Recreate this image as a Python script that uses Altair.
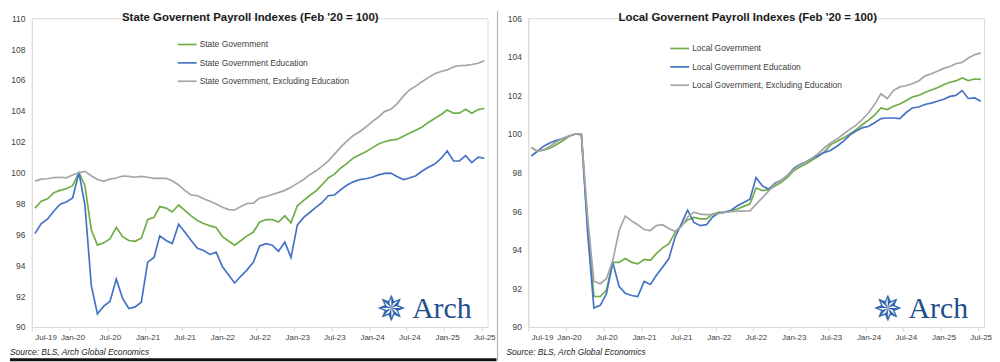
import altair as alt
import pandas as pd

# Monthly observations Jul-2019 .. Jul-2025 (73 months), plotted mid-month
dates = [(pd.Timestamp("2019-07-01") + pd.DateOffset(months=i)).strftime("%Y-%m-16T00:00:00") for i in range(73)]

state_names = ["State Government", "State Government Education", "State Government, Excluding Education"]
local_names = ["Local Government", "Local Government Education", "Local Government, Excluding Education"]
colors = ["#70ad47", "#4472c4", "#a5a5a5"]

state_gov = [97.7, 98.15, 98.3, 98.7, 98.85, 98.95, 99.15, 100.0, 99.15, 96.3,
             95.3, 95.45, 95.7, 96.45, 95.85, 95.6, 95.55, 95.75, 96.95, 97.1,
             97.8, 97.7, 97.45, 97.9, 97.55, 97.2, 96.9, 96.7, 96.55, 96.45,
             95.85, 95.55, 95.3, 95.6, 95.9, 96.15, 96.8, 96.95, 96.95, 96.8,
             97.2, 96.75, 97.85, 98.2, 98.5, 98.8, 99.2, 99.65, 99.9, 100.3,
             100.6, 100.95, 101.15, 101.35, 101.6, 101.85, 102.0, 102.1, 102.15, 102.35,
             102.55, 102.75, 102.95, 103.25, 103.5, 103.75, 104.05, 103.85, 103.85, 104.1,
             103.85, 104.08, 104.15]
state_edu = [96.05, 96.7, 97.0, 97.5, 97.95, 98.1, 98.35, 100.0, 97.9, 92.7,
             90.85, 91.35, 91.65, 93.1, 91.85, 91.2, 91.3, 91.6, 94.2, 94.5,
             95.9, 95.6, 95.4, 96.65, 96.15, 95.6, 95.1, 94.95, 94.7, 94.85,
             93.9, 93.35, 92.85, 93.3, 93.7, 94.2, 95.25, 95.4, 95.3, 94.9,
             95.5, 94.5, 96.6, 97.1, 97.4, 97.75, 98.05, 98.5, 98.55, 98.9,
             99.2, 99.4, 99.55, 99.6, 99.7, 99.85, 99.95, 99.97, 99.75, 99.55,
             99.65, 99.8, 100.1, 100.35, 100.55, 100.9, 101.4, 100.75, 100.75, 101.1,
             100.65, 101.0, 100.93]
state_exed = [99.45, 99.58, 99.6, 99.68, 99.7, 99.66, 99.85, 100.0, 100.08, 99.8,
              99.55, 99.43, 99.58, 99.65, 99.78, 99.75, 99.7, 99.76, 99.7, 99.63,
              99.62, 99.62, 99.47, 99.2, 98.85, 98.55, 98.5, 98.3, 98.15, 97.97,
              97.75, 97.6, 97.58, 97.8, 98.0, 98.02, 98.35, 98.45, 98.58, 98.7,
              98.85, 99.05, 99.3, 99.55, 99.85, 100.1, 100.4, 100.75, 101.2, 101.65,
              102.05, 102.4, 102.65, 102.95, 103.3, 103.6, 103.95, 104.1, 104.45, 104.95,
              105.35, 105.6, 105.9, 106.15, 106.4, 106.55, 106.65, 106.85, 106.92, 106.95,
              107.0, 107.08, 107.24]

local_gov = [99.3, 99.1, 99.17, 99.27, 99.46, 99.65, 99.88, 100.0, 99.97, 95.2,
             91.58, 91.58, 91.9, 93.35, 93.35, 93.55, 93.35, 93.27, 93.5, 93.45,
             93.8, 94.1, 94.3, 94.9, 95.25, 95.55, 95.68, 95.6, 95.6, 95.85,
             95.94, 95.96, 96.02, 96.11, 96.25, 96.37, 97.2, 97.07, 97.12, 97.3,
             97.5, 97.75, 98.1, 98.3, 98.45, 98.65, 98.85, 99.1, 99.45, 99.62,
             99.8, 100.0, 100.22, 100.48, 100.72, 101.0, 101.35, 101.27, 101.44, 101.55,
             101.72, 101.92, 102.0, 102.15, 102.28, 102.4, 102.55, 102.68, 102.75, 102.9,
             102.77, 102.85, 102.83]
local_edu = [98.86, 99.12, 99.38, 99.55, 99.67, 99.77, 99.9, 100.0, 99.97, 94.8,
             90.98, 91.12, 91.72, 93.35, 92.1, 91.75, 91.63, 91.58, 92.36, 92.2,
             92.67, 93.1, 93.53, 94.65, 95.33, 96.05, 95.42, 95.25, 95.3, 95.7,
             95.9, 95.95, 96.05, 96.28, 96.45, 96.62, 97.74, 97.31, 97.14, 97.45,
             97.6, 97.85, 98.22, 98.43, 98.55, 98.75, 98.9, 99.05, 99.16, 99.38,
             99.63, 99.94, 100.15, 100.32, 100.4, 100.6, 100.8, 100.83, 100.83, 100.8,
             101.1, 101.35, 101.4, 101.53, 101.6, 101.7, 101.8, 101.95, 102.0, 102.25,
             101.84, 101.87, 101.7]
local_exed = [99.3, 99.1, 99.2, 99.38, 99.6, 99.77, 99.9, 100.0, 99.97, 95.6,
              92.37, 92.24, 92.5, 93.44, 95.0, 95.75, 95.5, 95.3, 95.05, 95.0,
              95.25, 95.3, 95.1, 94.95, 95.2, 95.7, 95.95, 95.85, 95.82, 95.82,
              95.88, 95.94, 95.98, 96.0, 96.0, 96.02, 96.35, 96.7, 97.05, 97.4,
              97.6, 97.85, 98.15, 98.4, 98.55, 98.75, 99.0, 99.3, 99.55, 99.75,
              100.0, 100.24, 100.46, 100.75, 101.1, 101.56, 102.08, 101.84, 102.25, 102.44,
              102.5, 102.6, 102.75, 103.0, 103.12, 103.25, 103.4, 103.5, 103.64, 103.71,
              103.94, 104.11, 104.2]

state_title = "State Governent Payroll Indexes (Feb '20 = 100)"
local_title = "Local Governent Payroll Indexes (Feb '20 = 100)"
source_text = "Source: BLS, Arch Global Economics"
state_yticks = list(range(90, 111, 2))
local_yticks = list(range(90, 107, 2))

FONT = "Liberation Sans"
W, H = 459, 311


def long_df(names, series):
    rows = []
    for name, vals in zip(names, series):
        for d, v in zip(dates, vals):
            rows.append({"date": d, "series": name, "value": v})
    return pd.DataFrame(rows)


def panel(names, series, title, ymax, yticks, legend_x, legend_y, title_x, left_panel=True):
    df = long_df(names, series)
    xticks = [alt.DateTime(year=2019 + (i + 1) // 2, month=7 if i % 2 == 0 else 1, date=1) for i in range(13)]
    lines = alt.Chart(df).mark_line(strokeWidth=1.7).encode(
        x=alt.X("date:T",
                scale=alt.Scale(domain=[alt.DateTime(year=2019, month=7, date=1),
                                        alt.DateTime(year=2025, month=8, date=1)]),
                axis=alt.Axis(values=xticks, format="%b-%y", title=None, grid=False,
                              domainColor="#d9d9d9", tickColor="#d9d9d9", tickSize=4,
                              labelPadding=3, labelFontSize=8, labelColor="#404040",
                              labelFont=FONT, labelOverlap=False, labelOffset=3)),
        y=alt.Y("value:Q",
                scale=alt.Scale(domain=[90, ymax], nice=False, zero=False),
                axis=alt.Axis(values=yticks, format="d", title=None, grid=False, ticks=False,
                              domainColor="#d9d9d9", labelPadding=7, labelFontSize=8.5,
                              labelColor="#404040", labelFont=FONT)),
        color=alt.Color("series:N", scale=alt.Scale(domain=names, range=colors),
                        legend=alt.Legend(orient="none", legendX=legend_x, legendY=legend_y,
                                          title=None, symbolType="stroke", symbolSize=361,
                                          symbolStrokeWidth=1.7, labelFont=FONT, labelFontSize=8.5,
                                          labelColor="#404040", rowPadding=3.5, labelOffset=2,
                                          direction="vertical")),
    )
    ttl = alt.Chart(pd.DataFrame({"t": [title]})).mark_text(
        font=FONT, fontSize=11.5, fontWeight="bold", color="#1a1a1a", align="center", baseline="alphabetic"
    ).encode(text="t:N", x=alt.value(title_x), y=alt.value(3))
    star = alt.Chart(pd.DataFrame({"t": ["\u2735"]})).mark_text(
        font="DejaVu Sans", fontSize=36, color="#2f64ad", align="center", baseline="middle"
    ).encode(text="t:N", x=alt.value(362), y=alt.value(294))
    arch = alt.Chart(pd.DataFrame({"t": ["Arch"]})).mark_text(
        font="Liberation Serif", fontSize=30, color="#1f4e8c", align="left", baseline="alphabetic"
    ).encode(text="t:N", x=alt.value(383), y=alt.value(302))
    src = alt.Chart(pd.DataFrame({"t": [source_text]})).mark_text(
        font=FONT, fontSize=8.5, fontStyle="italic", color="#262626", align="left", baseline="alphabetic"
    ).encode(text="t:N", x=alt.value(-22), y=alt.value(339))
    layers = [lines, ttl, star, arch, src]
    if left_panel:
        bottom = alt.Chart(pd.DataFrame({"a": [0]})).mark_rule(color="#111111", strokeWidth=3).encode(
            x=alt.value(-22), x2=alt.value(468), y=alt.value(344))
        layers.append(bottom)
    else:
        sep = alt.Chart(pd.DataFrame({"a": [0]})).mark_rule(color="#b4b4b4", strokeWidth=1.2).encode(
            x=alt.value(-31), y=alt.value(-7), y2=alt.value(345))
        layers.append(sep)
    return alt.layer(*layers).properties(width=W, height=H)


left = panel(state_names, [state_gov, state_edu, state_exed], state_title, 110, state_yticks,
             146, 16, 220, left_panel=True)
right = panel(local_names, [local_gov, local_edu, local_exed], local_title, 106, local_yticks,
              142, 20, 221, left_panel=False)

chart = alt.hconcat(left, right, spacing=41, bounds="flush").resolve_scale(
    color="independent", x="independent", y="independent"
).resolve_legend(color="independent").properties(
    padding={"left": 0, "top": 0, "right": 0, "bottom": 0}
).configure_view(stroke=None).configure(background="white")

chart.save("out.html", embed_options={"renderer": "svg", "actions": False})
